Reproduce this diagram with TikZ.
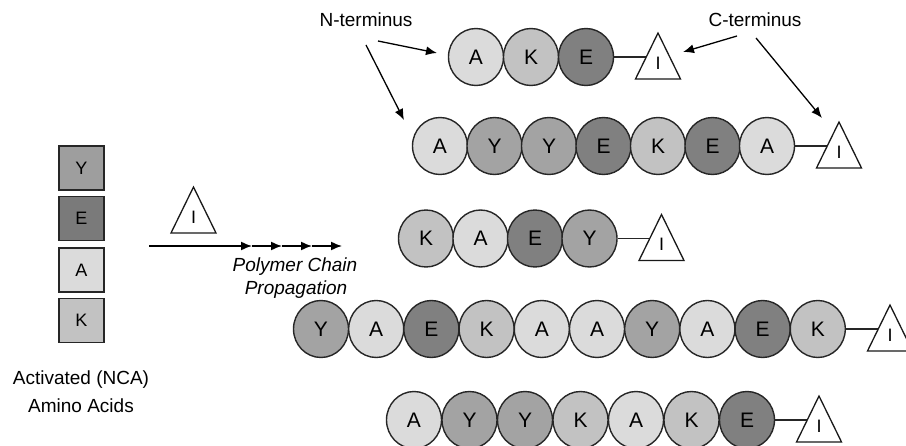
\documentclass[tikz,border=0pt]{standalone}
\usepackage{fontspec}
\setmainfont{Liberation Sans}
\usetikzlibrary{shapes.geometric,arrows.meta}
\definecolor{cA}{gray}{0.86}
\definecolor{cK}{gray}{0.76}
\definecolor{cY}{gray}{0.64}
\definecolor{cE}{gray}{0.50}
\definecolor{bY}{gray}{0.62}
\definecolor{bE}{gray}{0.48}
\definecolor{bA}{gray}{0.86}
\definecolor{bK}{gray}{0.76}
\newcommand{\tritag}[3]{%
  \draw[tri] (#2-22.5,#3+22) -- (#2,#3-24) -- (#2+22.5,#3+22) -- cycle;
  \node[ilbl] (#1) at (#2,#3+6) {I};
  \coordinate (#1-l) at (#2-11.7,#3);
}
\begin{document}
\begin{tikzpicture}[x=1pt,y=-1pt,
  res/.style={ellipse,draw=black!85,line width=1.4pt,minimum width=55pt,minimum height=57pt,inner sep=0pt,font=\fontsize{21}{21}\selectfont},
  box/.style={rectangle,draw=black!85,line width=1.4pt,minimum width=45pt,minimum height=44pt,inner sep=0pt,font=\fontsize{18}{18}\selectfont},
  tri/.style={draw=black!90,line width=1.3pt,fill=white,line join=miter},
  ilbl/.style={font=\fontsize{18}{18}\selectfont,inner sep=0pt},
  link/.style={draw=black!85,line width=1.3pt},
  arr/.style={line width=1.5pt,-{Latex[length=11pt,width=9pt]}},
  lbl/.style={font=\fontsize{19}{19}\selectfont,inner sep=0pt,anchor=base},
]
\useasboundingbox (0,0) rectangle (906,446);

% monomer boxes
\node[box,fill=bY] (mY) at (81.5,168) {Y};
\node[box,fill=bE] (mE) at (81.5,218.5) {E};
\node[box,fill=bA] (mA) at (81.5,270) {A};
\node[box,fill=bK] (mK) at (81.5,320.5) {K};
\node[lbl] (act) at (81,385) {Activated (NCA)};
\node[lbl] (ami) at (81,413) {Amino Acids};

% initiator and propagation arrows
\tritag{t0}{193.5}{211}
\coordinate (a0) at (149,246);
\coordinate (a1) at (252,246);
\coordinate (a2) at (282,246);
\coordinate (a3) at (312,246);
\coordinate (a4) at (342,246);
\draw[arr] (a0) -- (a1);
\draw[arr] (a1) -- (a2);
\draw[arr] (a2) -- (a3);
\draw[arr] (a3) -- (a4);
\node[lbl,font=\fontsize{19}{19}\selectfont\itshape] (pc) at (295,272) {Polymer Chain};
\node[lbl,font=\fontsize{19}{19}\selectfont\itshape] (pp) at (296,295) {Propagation};

% row 1
\foreach \L [count=\i] in {A,K,E}
  \node[res,fill=c\L] (r1c\i) at ({476+55*(\i-1)},57) {\L};
\draw[link] (r1c3.east) -- (658-11.7,57);
\tritag{t1}{658}{57}

% row 2
\foreach \L [count=\i] in {A,Y,Y,E,K,E,A}
  \node[res,fill=c\L] (r2c\i) at ({440+54.5*(\i-1)},146) {\L};
\draw[link] (r2c7.east) -- (839-11.7,146);
\tritag{t2}{839}{146}

% row 3
\foreach \L [count=\i] in {K,A,E,Y}
  \node[res,fill=c\L] (r3c\i) at ({426+54.5*(\i-1)},238.5) {\L};
\draw[link] (r3c4.east) -- (661.5-11.7,238.5);
\tritag{t3}{661.5}{238.5}

% row 4
\foreach \L [count=\i] in {Y,A,E,K,A,A,Y,A,E,K}
  \node[res,fill=c\L] (r4c\i) at ({321+55.2*(\i-1)},329) {\L};
\draw[link] (r4c10.east) -- (890-11.7,329);
\tritag{t4}{890}{329}

% row 5
\foreach \L [count=\i] in {A,Y,Y,K,A,K,E}
  \node[res,fill=c\L] (r5c\i) at ({414+55.5*(\i-1)},420) {\L};
\draw[link] (r5c7.east) -- (819-11.7,420);
\tritag{t5}{819}{420}

% terminus labels
\node[lbl] (nt) at (366,27) {N-terminus};
\node[lbl] (ct) at (755,27) {C-terminus};
\coordinate (n1s) at (378,41);
\coordinate (n1e) at (437,53);
\coordinate (n2s) at (366,45);
\coordinate (n2e) at (404,120);
\coordinate (c1s) at (737,36);
\coordinate (c1e) at (683,52);
\coordinate (c2s) at (756,38);
\coordinate (c2e) at (822,118);
\draw[arr,line width=1.3pt] (n1s) -- (n1e);
\draw[arr,line width=1.3pt] (n2s) -- (n2e);
\draw[arr,line width=1.3pt] (c1s) -- (c1e);
\draw[arr,line width=1.3pt] (c2s) -- (c2e);
\end{tikzpicture}
\end{document}
